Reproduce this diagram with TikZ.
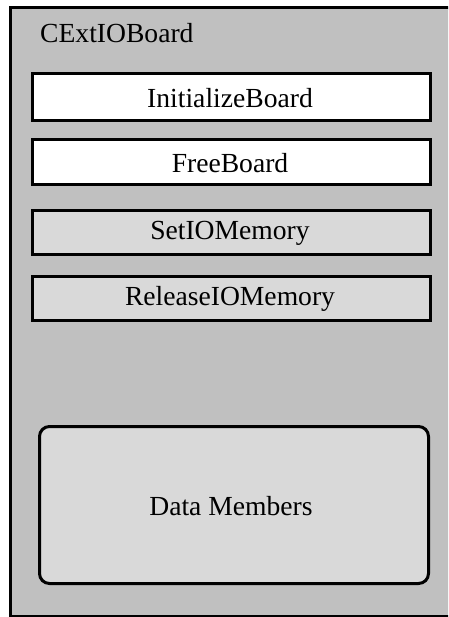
\documentclass[tikz,border=0pt]{standalone}
\usepackage{fontspec}
\setmainfont{Liberation Serif}
\definecolor{panelgray}{HTML}{C0C0C0}
\definecolor{itemgray}{HTML}{D9D9D9}
\begin{document}
\begin{tikzpicture}[x=1pt,y=-1pt,
  lbl/.style={font=\fontsize{27.6}{32}\selectfont, inner sep=0pt},
  method/.style={draw=black, line width=3pt},
]
\useasboundingbox (0,0) rectangle (448,617);
\begin{scope}
\clip (0,0) rectangle (448,617);
% class panel, running off the right and bottom edges
\path[fill=panelgray, draw=black, line width=3pt] (10.5,7.5) rectangle (470,616.5);
\end{scope}
\node[lbl, anchor=base west] (title) at (40,43) {CExtIOBoard};
% member functions
\path[method, fill=white] (32.5,73.5) rectangle (430.5,120.5);
\node[lbl] (m1) at (230,98) {InitializeBoard};
\path[method, fill=white] (32.5,139.5) rectangle (430.5,184.5);
\node[lbl] (m2) at (230,163) {FreeBoard};
\path[method, fill=itemgray] (32.5,210.5) rectangle (430.5,254.5);
\node[lbl] (m3) at (230,233) {SetIOMemory};
\path[method, fill=itemgray] (32.5,276.5) rectangle (430.5,320.5);
\node[lbl] (m4) at (230,299) {ReleaseIOMemory};
% data members
\path[method, fill=itemgray, rounded corners=10pt] (39.5,426.5) rectangle (428.5,583.5);
\node[lbl] (dm) at (231,506) {Data Members};
\end{tikzpicture}
\end{document}
